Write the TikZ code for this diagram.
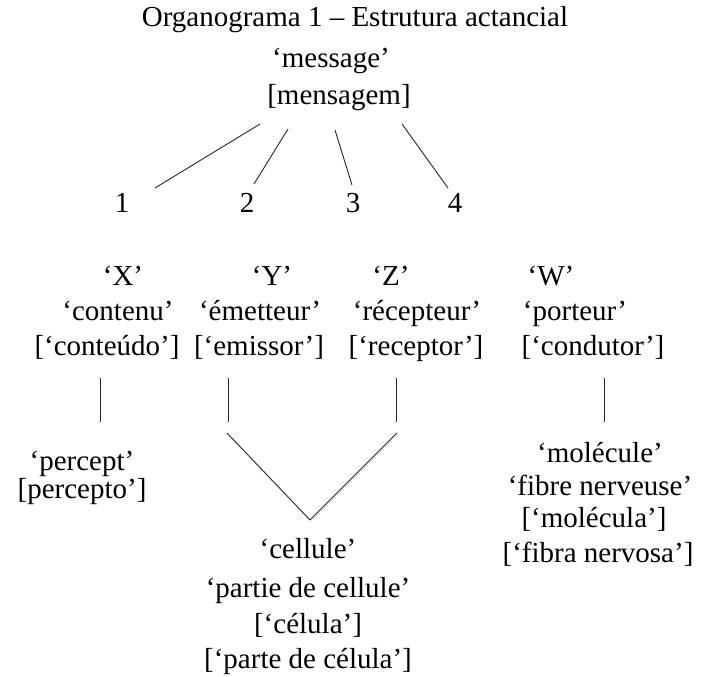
\documentclass[tikz,border=0pt]{standalone}
\usepackage{fontspec}
\setmainfont{Liberation Serif}
\begin{document}
\begin{tikzpicture}[x=1pt,y=-1pt,
  txt/.style={anchor=base, inner sep=0pt, font=\fontsize{29}{35}\selectfont},
  ln/.style={line width=0.9pt, black!85}]
\useasboundingbox (0,0) rectangle (702,677);
% title and root
\node[txt] (title) at (355,27) {Organograma 1 – Estrutura actancial};
\node[txt] (msg) at (331,67) {‘message’};
\node[txt] (msgpt) at (339,104) {[mensagem]};
% numbers
\node[txt] (n1) at (122,212) {1};
\node[txt] (n2) at (247,212) {2};
\node[txt] (n3) at (353,212) {3};
\node[txt] (n4) at (455,212) {4};
% column X
\node[txt] (x1) at (123,285) {‘X’};
\node[txt] (x2) at (118,320) {‘contenu’};
\node[txt] (x3) at (107,355) {[‘conteúdo’]};
% column Y
\node[txt] (y1) at (272,285) {‘Y’};
\node[txt] (y2) at (260,320) {‘émetteur’};
\node[txt] (y3) at (259,355) {[‘emissor’]};
% column Z
\node[txt] (z1) at (391,285) {‘Z’};
\node[txt] (z2) at (417,320) {‘récepteur’};
\node[txt] (z3) at (416,355) {[‘receptor’]};
% column W
\node[txt] (w1) at (551,285) {‘W’};
\node[txt] (w2) at (575,320) {‘porteur’};
\node[txt] (w3) at (593,355) {[‘condutor’]};
% lower texts
\node[txt] (p1) at (82,470) {‘percept’};
\node[txt] (p2) at (82,498) {[percepto’]};
\node[txt] (c1) at (308,558) {‘cellule’};
\node[txt] (c2) at (308,597) {‘partie de cellule’};
\node[txt] (c3) at (308,633) {[‘célula’]};
\node[txt] (c4) at (308,668) {[‘parte de célula’]};
\node[txt] (m1) at (600,462) {‘molécule’};
\node[txt] (m2) at (600,495) {‘fibre nerveuse’};
\node[txt] (m3) at (594,527) {[‘molécula’]};
\node[txt] (m4) at (598,562) {[‘fibra nervosa’]};
% connector points
\coordinate (r1) at (260,124); \coordinate (e1) at (155,188);
\coordinate (r2) at (288,129); \coordinate (e2) at (254,184);
\coordinate (r3) at (335,130); \coordinate (e3) at (352,185);
\coordinate (r4) at (402,124); \coordinate (e4) at (448,188);
\draw[ln] (r1) -- (e1);
\draw[ln] (r2) -- (e2);
\draw[ln] (r3) -- (e3);
\draw[ln] (r4) -- (e4);
% vertical bars
\coordinate (vx1) at (100,378); \coordinate (vx2) at (100,422);
\coordinate (vy1) at (228,378); \coordinate (vy2) at (228,422);
\coordinate (vz1) at (396,378); \coordinate (vz2) at (396,422);
\coordinate (vw1) at (604,378); \coordinate (vw2) at (604,422);
\draw[ln] (vx1) -- (vx2);
\draw[ln] (vy1) -- (vy2);
\draw[ln] (vz1) -- (vz2);
\draw[ln] (vw1) -- (vw2);
% V join
\coordinate (va) at (227,433); \coordinate (vb) at (397,433);
\coordinate (apex) at (310,520);
\draw[ln] (va) -- (apex);
\draw[ln] (vb) -- (apex);
\end{tikzpicture}
\end{document}
